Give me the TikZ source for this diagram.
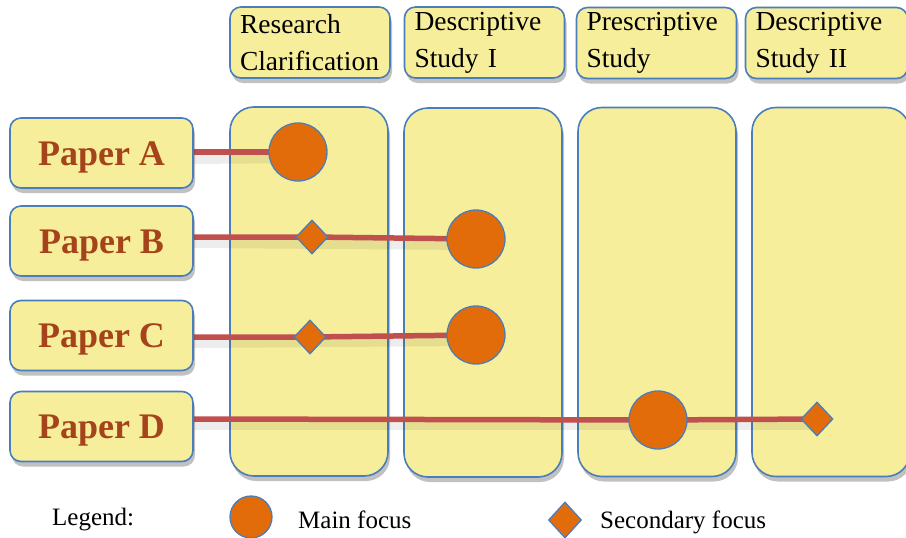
\documentclass[tikz,border=0pt]{standalone}
\usepackage{fontspec}
\setmainfont{Liberation Serif}
\usetikzlibrary{shapes.geometric,shadows}
\definecolor{boxfill}{HTML}{F7EE9B}
\definecolor{boxline}{HTML}{4A7EBB}
\definecolor{dotfill}{HTML}{E36C0A}
\definecolor{linkred}{HTML}{C0504D}
\definecolor{papertext}{HTML}{A5441B}
\pgfdeclarelayer{back}
\pgfdeclarelayer{mid}
\pgfsetlayers{back,mid,main}
\tikzset{
  shad/.style={drop shadow={shadow xshift=2pt,shadow yshift=-5pt,opacity=0.35,fill=black!70}},
  colbox/.style={draw=boxline,fill=boxfill,line width=1.6pt,rounded corners=24pt,minimum width=158pt,minimum height=369pt,inner sep=0pt,shad},
  hdrbox/.style={draw=boxline,fill=boxfill,line width=1.6pt,rounded corners=11pt,minimum height=71pt,text width=140pt,inner xsep=10pt,inner ysep=0pt,align=left,font=\fontsize{27.5}{37}\selectfont,shad},
  paperbox/.style={draw=boxline,fill=boxfill,line width=1.6pt,rounded corners=11pt,minimum width=183pt,minimum height=70pt,inner sep=0pt,text height=24pt,text depth=0pt,font=\fontsize{36}{38}\selectfont\bfseries,text=papertext,shad},
  mainf/.style={circle,draw=boxline,fill=dotfill,line width=1.3pt,minimum size=58pt,inner sep=0pt},
  secf/.style={diamond,draw=boxline,fill=dotfill,line width=1.3pt,minimum width=32pt,minimum height=34pt,inner sep=0pt},
  link/.style={draw=linkred,line width=5.5pt},
  linkshadow/.style={draw=black,opacity=0.07,line width=10pt},
  legtext/.style={font=\fontsize{25}{28}\selectfont,anchor=west,inner sep=0pt}
}
\begin{document}
\begin{tikzpicture}[x=1pt,y=-1pt]
\useasboundingbox (0,0) rectangle (906,538);
% columns
\begin{pgfonlayer}{back}
\node[colbox] (c1) at (309,291.5) {};
\node[colbox] (c2) at (483,292.5) {};
\node[colbox] (c3) at (657,292) {};
\node[colbox] (c4) at (831,292) {};
\end{pgfonlayer}
% headers
\node[hdrbox] (h1) at (310,42.5) {Research\\Clarification};
\node[hdrbox] (h2) at (484.5,42.5) {Descriptive\\Study I};
\node[hdrbox] (h3) at (656.5,43) {Prescriptive\\Study};
\node[hdrbox,text width=142pt] (h4) at (826.5,43) {Descriptive\\Study II};
% papers
\node[paperbox] (pA) at (101.5,153) {Paper A};
\node[paperbox] (pB) at (101.5,241) {Paper B};
\node[paperbox] (pC) at (101.5,335.5) {Paper C};
\node[paperbox] (pD) at (101.5,426.5) {Paper D};
% focus marks
\node[mainf] (mA) at (298,152) {};
\node[secf] (sB) at (312,237) {};
\node[mainf] (mB) at (476,239) {};
\node[secf] (sC) at (310,337) {};
\node[mainf] (mC) at (476,335) {};
\node[mainf] (mD) at (658,420) {};
\node[secf] (sD) at (817,419) {};
% links
\begin{pgfonlayer}{mid}
\draw[linkshadow] ([yshift=-6pt]pA.east) -- ([yshift=-6pt]mA.center);
\draw[linkshadow] ([yshift=-6pt]pB.east |- sB.center) -- ([yshift=-6pt]mB.center);
\draw[linkshadow] ([yshift=-6pt]pC.east |- sC.center) -- ([yshift=-6pt]mC.center);
\draw[linkshadow] ([yshift=-6pt]pD.east |- sD.center) -- ([yshift=-6pt]sD.center);
\draw[link] (pA.east |- mA.center) -- (mA.center);
\draw[link] (pB.east |- sB.center) -- (sB.center) -- (mB.center);
\draw[link] (pC.east |- sC.center) -- (sC.center) -- (mC.center);
\draw[link] (pD.east |- sD.center) -- (mD.center) -- (sD.center);
\end{pgfonlayer}
% legend
\node[legtext] (lg) at (52,520) {Legend:};
\node[mainf,minimum size=42pt] (lm) at (251,517) {};
\node[legtext] (lmt) at (298,520) {Main focus};
\node[secf,minimum width=33pt,minimum height=36pt] (ls) at (565,520) {};
\node[legtext] (lst) at (600,522) {Secondary focus};
\end{tikzpicture}
\end{document}
